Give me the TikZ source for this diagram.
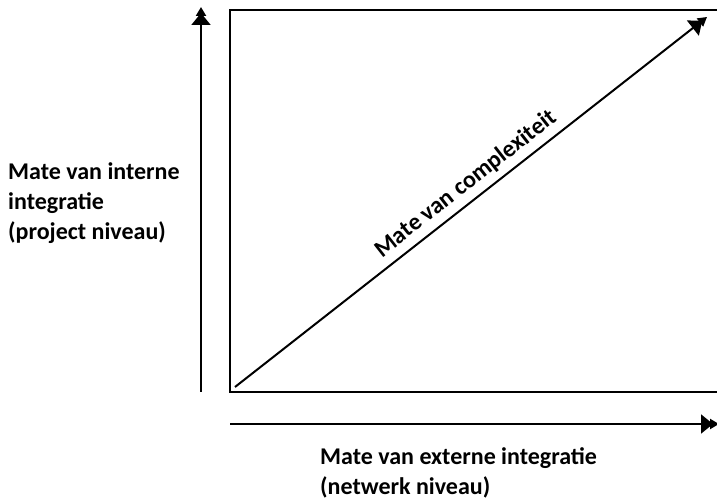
\documentclass[tikz,border=0pt]{standalone}
\usepackage{fontspec}
\setmainfont{Carlito}
\usetikzlibrary{arrows.meta}
\begin{document}
\begin{tikzpicture}[x=1pt,y=1pt,
  axis/.style={line width=2pt,-{Triangle[width=19pt,length=12pt,sep=-3pt]Triangle[width=10pt,length=9pt]}},
  lbl/.style={font=\fontsize{24}{30}\selectfont\bfseries,align=left,inner sep=0pt}]
\useasboundingbox (0,0) rectangle (717,500);
\coordinate (tr) at (717,490);
\coordinate (tl) at (230,490);
\coordinate (bl) at (230,108);
\coordinate (br) at (717,108);
\draw[line width=2pt] (tr) -- (tl) -- (bl) -- (br);
\coordinate (vs) at (201,108);
\coordinate (ve) at (201,493);
\draw[axis] (vs) -- (ve);
\coordinate (hs) at (230,76);
\coordinate (he) at (719,76);
\draw[axis] (hs) -- (he);
\coordinate (ds) at (235,113);
\coordinate (de) at (707,483);
\draw[axis] (ds) -- (de);
\node[lbl,anchor=west] (yl) at (8,297) {Mate van interne\\integratie\\(project niveau)};
\node[lbl,anchor=west] (xl) at (320,27) {Mate van externe integratie\\(netwerk niveau)};
\node[lbl,rotate=38.1] (dl) at (466,316) {Mate van complexiteit};
\end{tikzpicture}
\end{document}
